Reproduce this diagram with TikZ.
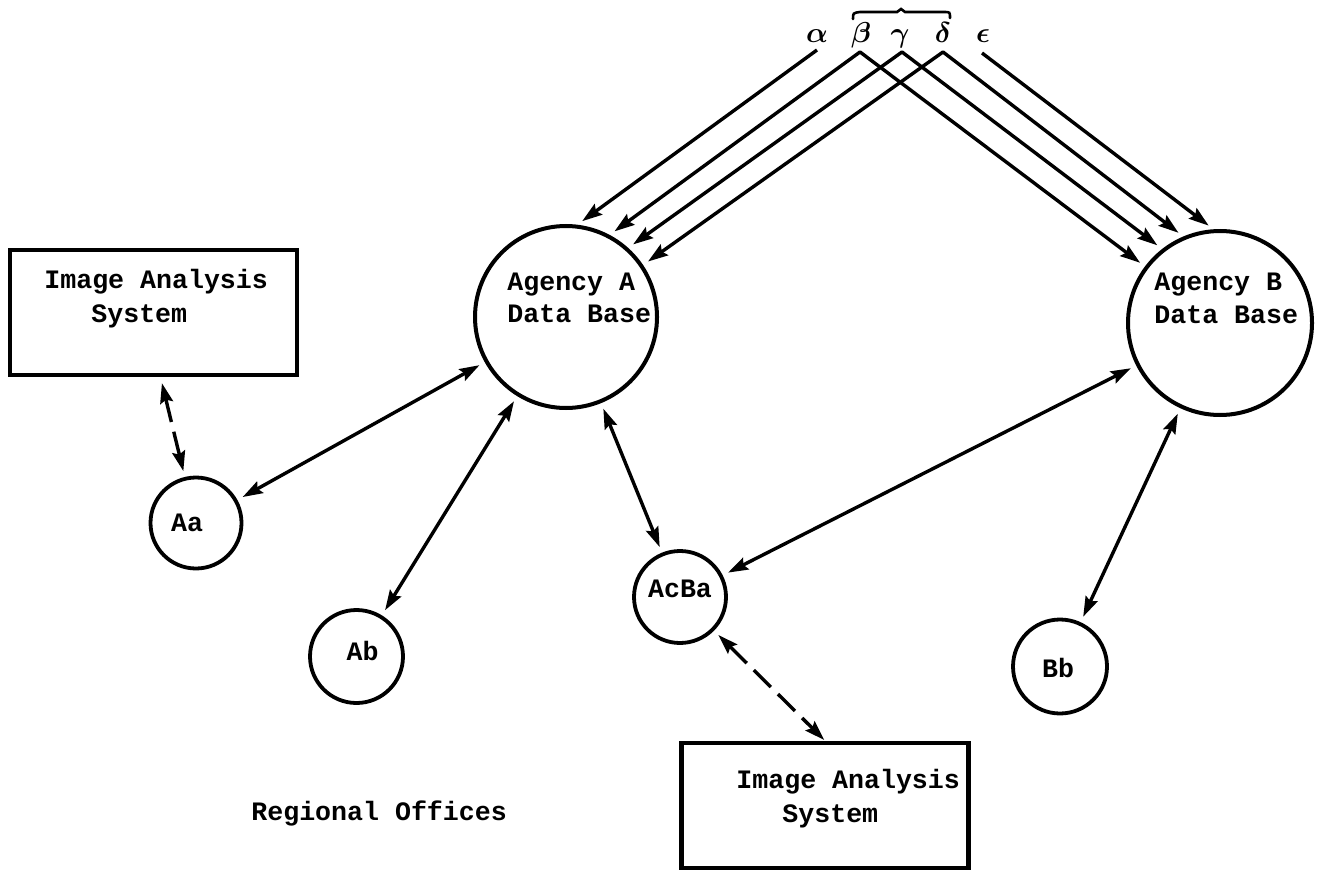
\documentclass[tikz,border=0pt]{standalone}
\usepackage{amsmath}
\usepackage{fontspec}
\setmonofont{Liberation Mono}
\usetikzlibrary{arrows.meta}
\begin{document}
\begin{tikzpicture}[x=0.5pt,y=-0.5pt,
  tip/.tip={Stealth[length=10pt,width=6.5pt,inset=1.5pt]},
  db/.style={circle, draw, line width=2pt, inner sep=0pt},
  office/.style={circle, draw, line width=1.9pt, inner sep=0pt},
  sysbox/.style={draw, line width=2.3pt, minimum width=143.5pt, minimum height=62.5pt, inner sep=0pt},
  txt/.style={font=\ttfamily\bfseries\fontsize{13.3pt}{16pt}\selectfont, inner sep=0pt},
  greek/.style={font=\fontsize{15.5pt}{18pt}\selectfont, inner sep=0pt, anchor=base},
  link/.style={line width=1.7pt, tip-tip, shorten <=3pt, shorten >=3pt, line join=round},
  feed/.style={line width=1.7pt, -tip, shorten >=3pt},
  dlink/.style={link, dash pattern=on 12pt off 5pt}
]
\useasboundingbox (0,0) rectangle (1320,877);

% data bases
\node[db, minimum size=91pt] (A) at (566,317) {};
\node[db, minimum size=92pt] (B) at (1220,323) {};
\node[txt, anchor=base west] (Atx1) at (507,290) {Agency A};
\node[txt, anchor=base west] (Atx2) at (507,322) {Data Base};
\node[txt, anchor=base west] (Btx1) at (1154,290) {Agency B};
\node[txt, anchor=base west] (Btx2) at (1154,323) {Data Base};

% regional offices
\node[office, minimum size=45.5pt] (Aa) at (196,523) {};
\node[office, minimum size=46.5pt] (Ab) at (356.5,656.5) {};
\node[office, minimum size=46pt] (AcBa) at (680,597) {};
\node[office, minimum size=47pt] (Bb) at (1060,666.5) {};
\node[txt, anchor=base] (Aatx) at (187,531) {Aa};
\node[txt, anchor=base] (Abtx) at (362.5,660) {Ab};
\node[txt, anchor=base] (AcBatx) at (680,597) {AcBa};
\node[txt, anchor=base] (Bbtx) at (1058,677) {Bb};
\node[txt, anchor=base west] (reg) at (251,820) {Regional Offices};

% image analysis systems
\node[sysbox] (box1) at (153.5,312.5) {};
\node[txt, anchor=base west] (b1l1) at (44,288) {Image Analysis};
\node[txt, anchor=base west] (b1l2) at (91,322) {System};
\node[sysbox] (box2) at (825,805.5) {};
\node[txt, anchor=base west] (b2l1) at (736,788) {Image Analysis};
\node[txt, anchor=base west] (b2l2) at (782,822) {System};

% office links
\draw[link] (A) -- (Aa);
\draw[link] (A) -- (Ab);
\draw[link] (A) -- (AcBa);
\draw[link] (B) -- (AcBa);
\draw[link] (B) -- (Bb);
\draw[dlink] ([xshift=3.5pt]box1.south) -- (Aa);
\draw[dlink, shorten >=0.5pt] (AcBa) -- (box2.north);

% exchange channels between the data bases
\coordinate (al) at (817,50);
\coordinate (be) at (860,52);
\coordinate (ga) at (902,52);
\coordinate (de) at (943,52);
\coordinate (ep) at (982,53);
\draw[feed] (al) -- (A.83);
\draw[link] (A.62) -- (be) -- (B.143);
\draw[link] (A.48) -- (ga) -- (B.128);
\draw[link] (A.34) -- (de) -- (B.113);
\draw[feed] (ep) -- (B.94);

\node[greek] (galpha) at (817,43) {$\boldsymbol{\alpha}$};
\node[greek] (gbeta) at (861,43) {$\boldsymbol{\beta}$};
\node[greek] (ggamma) at (900,43) {$\boldsymbol{\gamma}$};
\node[greek] (gdelta) at (943,43) {$\boldsymbol{\delta}$};
\node[greek] (geps) at (983,43) {$\boldsymbol{\epsilon}$};
\draw[line width=1.3pt, line cap=round]
  (853,19) .. controls (853,13) .. (860,12) -- (897,12) -- (901,9) -- (905,12)
  -- (944,12) .. controls (950,12) .. (950,18);
\end{tikzpicture}
\end{document}
